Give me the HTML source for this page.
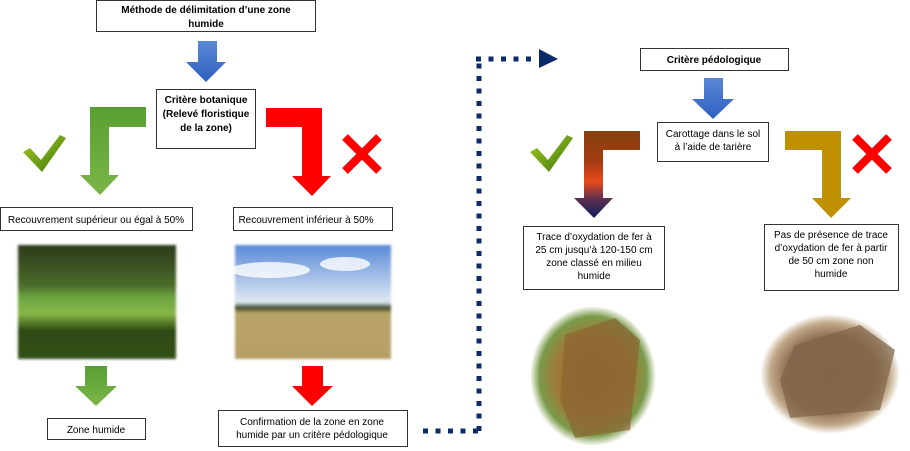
<!DOCTYPE html>
<html><head><meta charset="utf-8"><style>
html,body{margin:0;padding:0;background:#fff;}
svg{display:block;font-family:"Liberation Sans",sans-serif;}
</style></head><body>
<svg width="910" height="451" viewBox="0 0 910 451" xmlns="http://www.w3.org/2000/svg">
<defs>
<linearGradient id="blue" x1="0" y1="0" x2="0" y2="1"><stop offset="0" stop-color="#5b87d6"/><stop offset="1" stop-color="#2f60c0"/></linearGradient>
<linearGradient id="green" x1="0" y1="0" x2="0" y2="1"><stop offset="0" stop-color="#5a9e32"/><stop offset="1" stop-color="#7ab648"/></linearGradient>
<linearGradient id="brown" x1="0" y1="0" x2="0" y2="1"><stop offset="0" stop-color="#84400e"/><stop offset="0.35" stop-color="#a43c14"/><stop offset="0.58" stop-color="#e84a1a"/><stop offset="0.78" stop-color="#603050"/><stop offset="1" stop-color="#0e1f5a"/></linearGradient>
<linearGradient id="chk" x1="0" y1="0" x2="1" y2="1"><stop offset="0" stop-color="#a8c820"/><stop offset="1" stop-color="#3c7a10"/></linearGradient>
<linearGradient id="sky" x1="0" y1="0" x2="0" y2="1"><stop offset="0" stop-color="#5a8ad8"/><stop offset="0.5" stop-color="#dfe8f2"/><stop offset="0.55" stop-color="#3d4a2a"/><stop offset="0.6" stop-color="#b8a468"/><stop offset="1" stop-color="#b89e66"/></linearGradient>
<linearGradient id="wood" x1="0" y1="0" x2="0" y2="1"><stop offset="0" stop-color="#2c3a1c"/><stop offset="0.35" stop-color="#4a6a2a"/><stop offset="0.45" stop-color="#6aa040"/><stop offset="0.6" stop-color="#88b848"/><stop offset="0.75" stop-color="#2e4a14"/><stop offset="1" stop-color="#34501a"/></linearGradient>
<radialGradient id="soil1" cx="0.5" cy="0.5" r="0.5"><stop offset="0" stop-color="#8a6a30"/><stop offset="0.6" stop-color="#a07a3a"/><stop offset="0.85" stop-color="#7a9a4a"/><stop offset="1" stop-color="#fff"/></radialGradient>
<radialGradient id="soil2" cx="0.5" cy="0.5" r="0.5"><stop offset="0" stop-color="#8a6c50"/><stop offset="0.65" stop-color="#937558"/><stop offset="0.85" stop-color="#c0a888"/><stop offset="1" stop-color="#fff"/></radialGradient>
<filter id="soft"><feGaussianBlur stdDeviation="1.2"/></filter>
</defs>

<g fill="#fff" stroke="#333" stroke-width="1">
<rect x="96.5" y="0.5" width="219" height="31"/>
<rect x="156.5" y="89.5" width="99" height="59"/>
<rect x="0.5" y="207.5" width="192" height="23"/>
<rect x="233.5" y="207.5" width="159" height="23"/>
<rect x="47.5" y="418.5" width="98" height="21"/>
<rect x="218.5" y="410.5" width="189" height="36"/>
<rect x="640.5" y="48.5" width="148" height="22"/>
<rect x="657.5" y="122.5" width="111" height="39"/>
<rect x="523.5" y="226.5" width="141" height="63"/>
<rect x="764.5" y="224.5" width="134" height="66"/>
</g>

<g font-size="10" fill="#000" text-anchor="middle">
<text x="206" y="13" font-weight="bold">Méthode de délimitation d’une zone</text>
<text x="206" y="27" font-weight="bold">humide</text>
<text x="206" y="103" font-weight="bold">Critère botanique</text>
<text x="206" y="117" font-weight="bold">(Relevé floristique</text>
<text x="206" y="131" font-weight="bold">de la zone)</text>
<text x="96" y="223">Recouvrement supérieur ou égal à 50%</text>
<text x="306" y="223">Recouvrement inférieur à 50%</text>
<text x="96" y="433">Zone humide</text>
<text x="312" y="425">Confirmation de la zone en zone</text>
<text x="312" y="438">humide par un critère pédologique</text>
<text x="714" y="63" font-weight="bold">Critère pédologique</text>
<text x="713" y="137">Carottage dans le sol</text>
<text x="713" y="150">à l’aide de tarière</text>
<text x="594" y="240">Trace d’oxydation de fer à</text>
<text x="594" y="253">25 cm jusqu’à 120-150 cm</text>
<text x="594" y="266">zone classé en milieu</text>
<text x="594" y="279">humide</text>
<text x="831" y="238">Pas de présence de trace</text>
<text x="831" y="251">d’oxydation de fer à partir</text>
<text x="831" y="264">de 50 cm zone non</text>
<text x="831" y="277">humide</text>
</g>

<polygon points="198,41 217,41 217,62 226,62 206,82 186,62 198,62" fill="url(#blue)"/>
<polygon points="704,78 723,78 723,99 734,99 713,119 692,99 704,99" fill="url(#blue)"/>

<polygon points="90,107 146,107 146,127 109,127 109,175 119,175 100,195 80,175 90,175" fill="url(#green)"/>
<polygon points="266,108 322,108 322,176 331,176 312,196 292,176 302,176 302,127 266,127" fill="#ff0000"/>
<polygon points="584,131 640,131 640,150 603,150 603,198 613,198 594,218 574,198 584,198" fill="url(#brown)"/>
<polygon points="785,131 841,131 841,198 851,198 831,218 812,198 822,198 822,150 785,150" fill="#bf9000"/>

<path d="M23,152 L30,148 L41,160 L60,135 L66,138 L42,172 Z" fill="url(#chk)"/>
<path d="M530,152 L537,148 L548,160 L567,135 L573,138 L549,172 Z" fill="url(#chk)"/>
<g stroke="#ff0000" stroke-width="8">
<line x1="345" y1="137" x2="379" y2="171"/><line x1="379" y1="137" x2="345" y2="171"/>
<line x1="855" y1="137" x2="889" y2="171"/><line x1="889" y1="137" x2="855" y2="171"/>
</g>

<polygon points="85,366 107,366 107,386 117,386 96,406 75,386 85,386" fill="url(#green)"/>
<polygon points="302,366 323,366 323,386 333,386 312,406 292,386 302,386" fill="#ff0000"/>

<rect x="18" y="245" width="158" height="114" fill="url(#wood)" filter="url(#soft)"/>
<rect x="235" y="245" width="156" height="114" fill="url(#sky)" filter="url(#soft)"/>
<ellipse cx="270" cy="270" rx="40" ry="8" fill="#fff" opacity="0.8"/>
<ellipse cx="345" cy="264" rx="25" ry="7" fill="#fff" opacity="0.8"/>
<ellipse cx="593" cy="376" rx="63" ry="70" fill="url(#soil1)"/>
<ellipse cx="830" cy="374" rx="70" ry="60" fill="url(#soil2)"/>
<polygon points="565,335 615,318 640,340 630,430 575,438 560,400" fill="#8a6430" opacity="0.7"/>
<polygon points="795,345 860,325 895,350 880,410 790,418 780,380" fill="#7e6248" opacity="0.7"/>

<g stroke="#0a2a6a" stroke-width="5" fill="none" stroke-dasharray="5 7.5">
<line x1="423" y1="431" x2="480" y2="431"/>
<line x1="479" y1="431" x2="479" y2="59"/>
<line x1="476" y1="59" x2="535" y2="59"/>
</g>
<polygon points="539,49 558,59 539,68" fill="#0a2a6a"/>
</svg>
</body></html>
